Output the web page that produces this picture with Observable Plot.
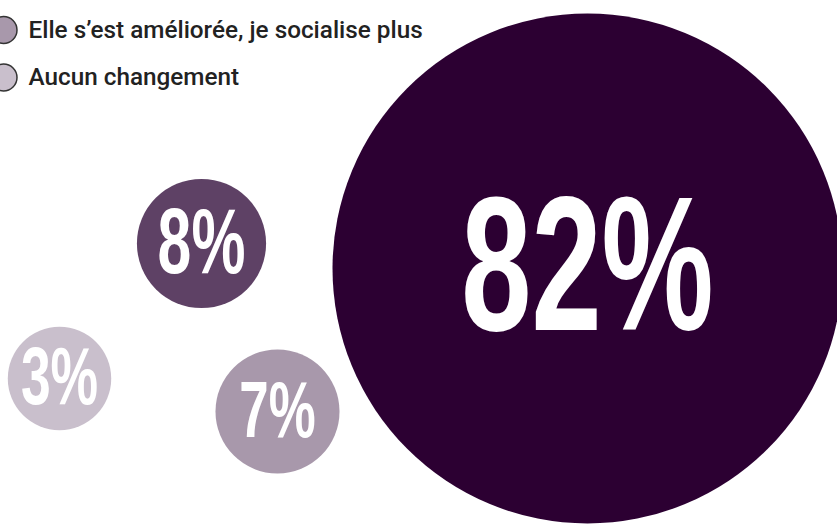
<!DOCTYPE html>
<html>
<head>
<meta charset="utf-8">
<script src="https://cdn.jsdelivr.net/npm/d3@7"></script>
<script src="https://cdn.jsdelivr.net/npm/@observablehq/plot@0.6"></script>
<style>
  html, body { margin: 0; padding: 0; background: #fff; overflow: hidden; }
  #chart svg { display: block; }
</style>
</head>
<body>
<div id="chart"></div>
<script>
// ---- data ----
const values = [82, 8, 7, 3];
const labels = ["82%", "8%", "7%", "3%"];
const colors = ["#2c0032", "#5e4165", "#a898ab", "#c9bfcc"];
const legendLabels = ["Elle s’est améliorée, je socialise plus", "Aucun changement"];
const legendColors = ["#a898ab", "#c9bfcc"];

// ---- layout (pixel frame 837 x 524) ----
const bubbleX = [587, 201, 277, 59];
const bubbleY = [268, 243, 411, 378];
const labelSize = [191, 92, 80, 81];
const legendX = [3, 3];
const legendY = [29.5, 77];

const bubbles = values.map((v, i) => ({
  value: v, label: labels[i], color: colors[i],
  x: bubbleX[i], y: bubbleY[i], fs: labelSize[i]
}));
const legend = legendLabels.map((t, i) => ({
  label: t, color: legendColors[i], x: legendX[i], y: legendY[i]
}));

const chart = Plot.plot({
  width: 837,
  height: 524,
  margin: 0,
  x: {domain: [0, 837], range: [0, 837], axis: null},
  y: {domain: [0, 524], range: [0, 524], axis: null},
  r: {type: "linear", domain: [0, 82], range: [44, 255]},
  color: {type: "identity"},
  marks: [
    Plot.dot(legend, {x: "x", y: "y", r: 13.5, fill: "color", stroke: "#333", strokeWidth: 1.5}),
    Plot.text(legend, {x: "x", y: "y", text: "label", dx: 25, textAnchor: "start",
      lineAnchor: "middle", fontSize: 24.3, fill: "#222",
      fontFamily: "Roboto, 'Liberation Sans', sans-serif", fontWeight: 500}),
    Plot.dot(bubbles, {x: "x", y: "y", r: "value", fill: "color", stroke: "none"}),
    Plot.text(bubbles, {x: "x", y: "y", text: "label", fontSize: "fs", fill: "white",
      lineAnchor: "middle", fontWeight: "bold",
      fontFamily: "'Liberation Sans', Arial, sans-serif"})
  ]
});

// condense the big percentage labels horizontally (scale about each label's anchor)
const SX = 0.66;
d3.select(chart).selectAll("text").each(function() {
  if (!/%$/.test(this.textContent.trim())) return;
  const t = this.getAttribute("transform");
  if (t) this.setAttribute("transform", t + ` scale(${SX},1)`);
});

document.getElementById("chart").appendChild(chart);
</script>
</body>
</html>
